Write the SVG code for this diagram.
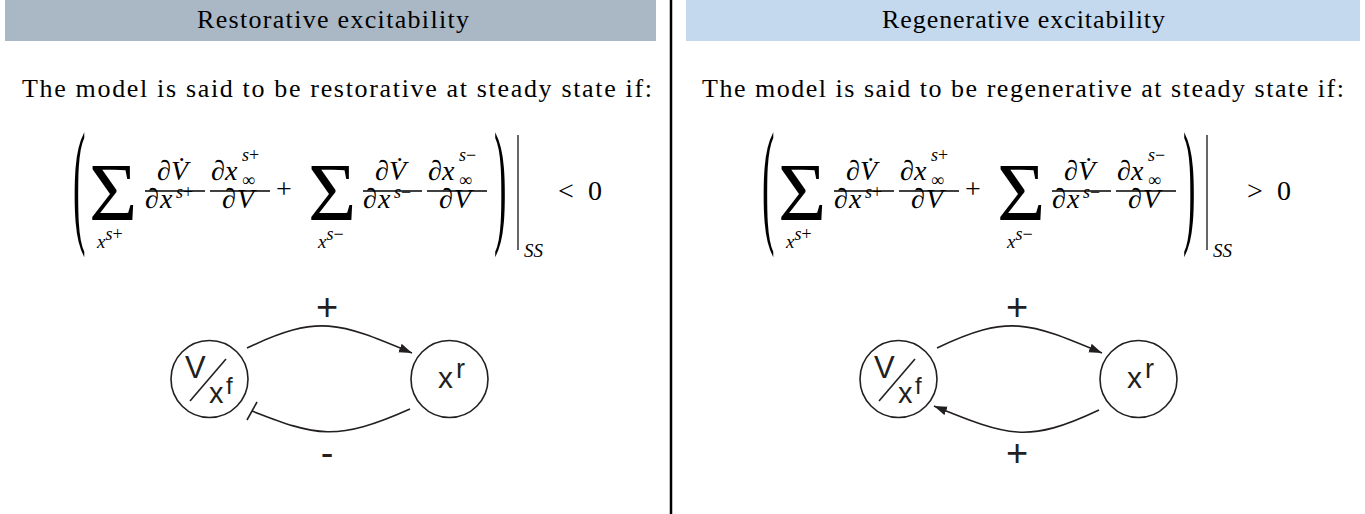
<svg xmlns="http://www.w3.org/2000/svg" width="1365" height="514" viewBox="0 0 1365 514">
<style>
.t{font-family:"Liberation Serif","Times New Roman",serif;fill:#000}
.h{font-size:26px}
.b{font-size:26px}
.m{font-size:28px}
.i{font-style:italic}
.sm{font-size:19px}
.sup{font-size:18px}
.sum{font-size:83px}
.par{font-size:50px}
.n{font-family:"Liberation Sans",Arial,sans-serif;fill:#231f20}
.node{fill:#fff;stroke:#231f20;stroke-width:1.6}
.edge{fill:none;stroke:#231f20;stroke-width:1.6}
.rule{stroke:#000;stroke-width:1.3}
</style>
<defs>
<marker id="ah" markerUnits="userSpaceOnUse" markerWidth="14" markerHeight="10" refX="13" refY="4.5" orient="auto">
<path d="M0,0 L13,4.5 L0,9 Z" fill="#231f20"/>
</marker>
<g id="eq">
<text class="t par" transform="translate(73,228) scale(0.75,2.75)">(</text>
<text class="t sum" x="89" y="220">Σ</text>
<text class="t sm i" x="97" y="248">x<tspan class="sup" font-style="normal" dy="-8"><tspan font-style="italic">s</tspan>+</tspan></text>
<line class="rule" x1="145" y1="191" x2="205" y2="191"/>
<text class="t m" x="157" y="180">∂</text>
<text class="t m i" x="171" y="180">V̇</text>
<text class="t m" x="145" y="208">∂</text>
<text class="t m i" x="160" y="208">x</text>
<text class="t sup" x="176" y="198"><tspan class="i">s</tspan>+</text>
<line class="rule" x1="210" y1="191" x2="270" y2="191"/>
<text class="t m" x="211" y="180">∂</text>
<text class="t m i" x="225" y="180">x</text>
<text class="t sup" x="242" y="161"><tspan class="i">s</tspan>+</text>
<text class="t sup" x="242" y="186">∞</text>
<text class="t m" x="222" y="208">∂</text>
<text class="t m i" x="237" y="208">V</text>
<text class="t m" x="284" y="198" text-anchor="middle">+</text>
<text class="t sum" x="308" y="220">Σ</text>
<text class="t sm i" x="318" y="248">x<tspan class="sup" font-style="normal" dy="-8"><tspan font-style="italic">s</tspan>−</tspan></text>
<line class="rule" x1="363" y1="191" x2="422" y2="191"/>
<text class="t m" x="375" y="180">∂</text>
<text class="t m i" x="389" y="180">V̇</text>
<text class="t m" x="363" y="208">∂</text>
<text class="t m i" x="378" y="208">x</text>
<text class="t sup" x="394" y="198"><tspan class="i">s</tspan>−</text>
<line class="rule" x1="427" y1="191" x2="487" y2="191"/>
<text class="t m" x="428" y="180">∂</text>
<text class="t m i" x="442" y="180">x</text>
<text class="t sup" x="459" y="161"><tspan class="i">s</tspan>−</text>
<text class="t sup" x="459" y="186">∞</text>
<text class="t m" x="439" y="208">∂</text>
<text class="t m i" x="454" y="208">V</text>
<text class="t par" transform="translate(494,228) scale(0.75,2.75)">)</text>
<line x1="518" y1="135" x2="518" y2="250" stroke="#000" stroke-width="1.2"/>
<text class="t sm i" x="524" y="257">SS</text>
<text class="t m" x="588" y="200">0</text>
</g>
</defs>

<rect x="5" y="0" width="651" height="41" fill="#aab7c5"/>
<rect x="686" y="0" width="674" height="41" fill="#c5d9ee"/>
<line x1="671" y1="0" x2="671" y2="514" stroke="#000" stroke-width="2.5"/>

<text class="t h" x="197" y="28" textLength="272">Restorative excitability</text>
<text class="t h" x="882" y="28" textLength="283">Regenerative excitability</text>

<text class="t b" x="22" y="97" textLength="630">The model is said to be restorative at steady state if:</text>
<text class="t b" x="702" y="97" textLength="642">The model is said to be regenerative at steady state if:</text>

<use href="#eq"/>
<text class="t m" x="558" y="200">&lt;</text>
<use href="#eq" transform="translate(689,0)"/>
<text class="t m" x="1247" y="200">&gt;</text>

<g id="connectors">
<path class="edge" d="M247,348 C319,314 338,322 412,353" marker-end="url(#ah)"/>
<path class="edge" d="M410,409 C336,442 316,436 252,411"/>
<line class="edge" x1="247" y1="420" x2="257" y2="402"/>
<text class="n" x="327" y="320" font-size="38" text-anchor="middle">+</text>
<text class="n" x="327" y="466" font-size="38" text-anchor="middle">-</text>
<path class="edge" d="M937,348 C1009,314 1028,322 1102,353" marker-end="url(#ah)"/>
<path class="edge" d="M1099,410 C1027,444 1008,436 934,406" marker-end="url(#ah)"/>
<text class="n" x="1017" y="320" font-size="38" text-anchor="middle">+</text>
<text class="n" x="1017" y="466" font-size="38" text-anchor="middle">+</text>
</g>

<g id="node-vxf-left">
<circle class="node" cx="209.5" cy="379" r="38.5"/>
<text class="n" x="185" y="378" font-size="31">V</text>
<line class="edge" x1="190" y1="401" x2="226" y2="359"/>
<text class="n" x="209" y="403" font-size="29">x</text>
<text class="n" x="226" y="394" font-size="24">f</text>
</g>
<g id="node-xr-left">
<circle class="node" cx="449.5" cy="379" r="38.5"/>
<text class="n" x="438" y="388" font-size="30">x</text>
<text class="n" x="456" y="378" font-size="27">r</text>
</g>
<g id="node-vxf-right">
<circle class="node" cx="898.5" cy="379" r="38.5"/>
<text class="n" x="874" y="378" font-size="31">V</text>
<line class="edge" x1="879" y1="401" x2="915" y2="359"/>
<text class="n" x="898" y="403" font-size="29">x</text>
<text class="n" x="915" y="394" font-size="24">f</text>
</g>
<g id="node-xr-right">
<circle class="node" cx="1138.5" cy="379" r="38.5"/>
<text class="n" x="1127" y="388" font-size="30">x</text>
<text class="n" x="1145" y="378" font-size="27">r</text>
</g>
</svg>
